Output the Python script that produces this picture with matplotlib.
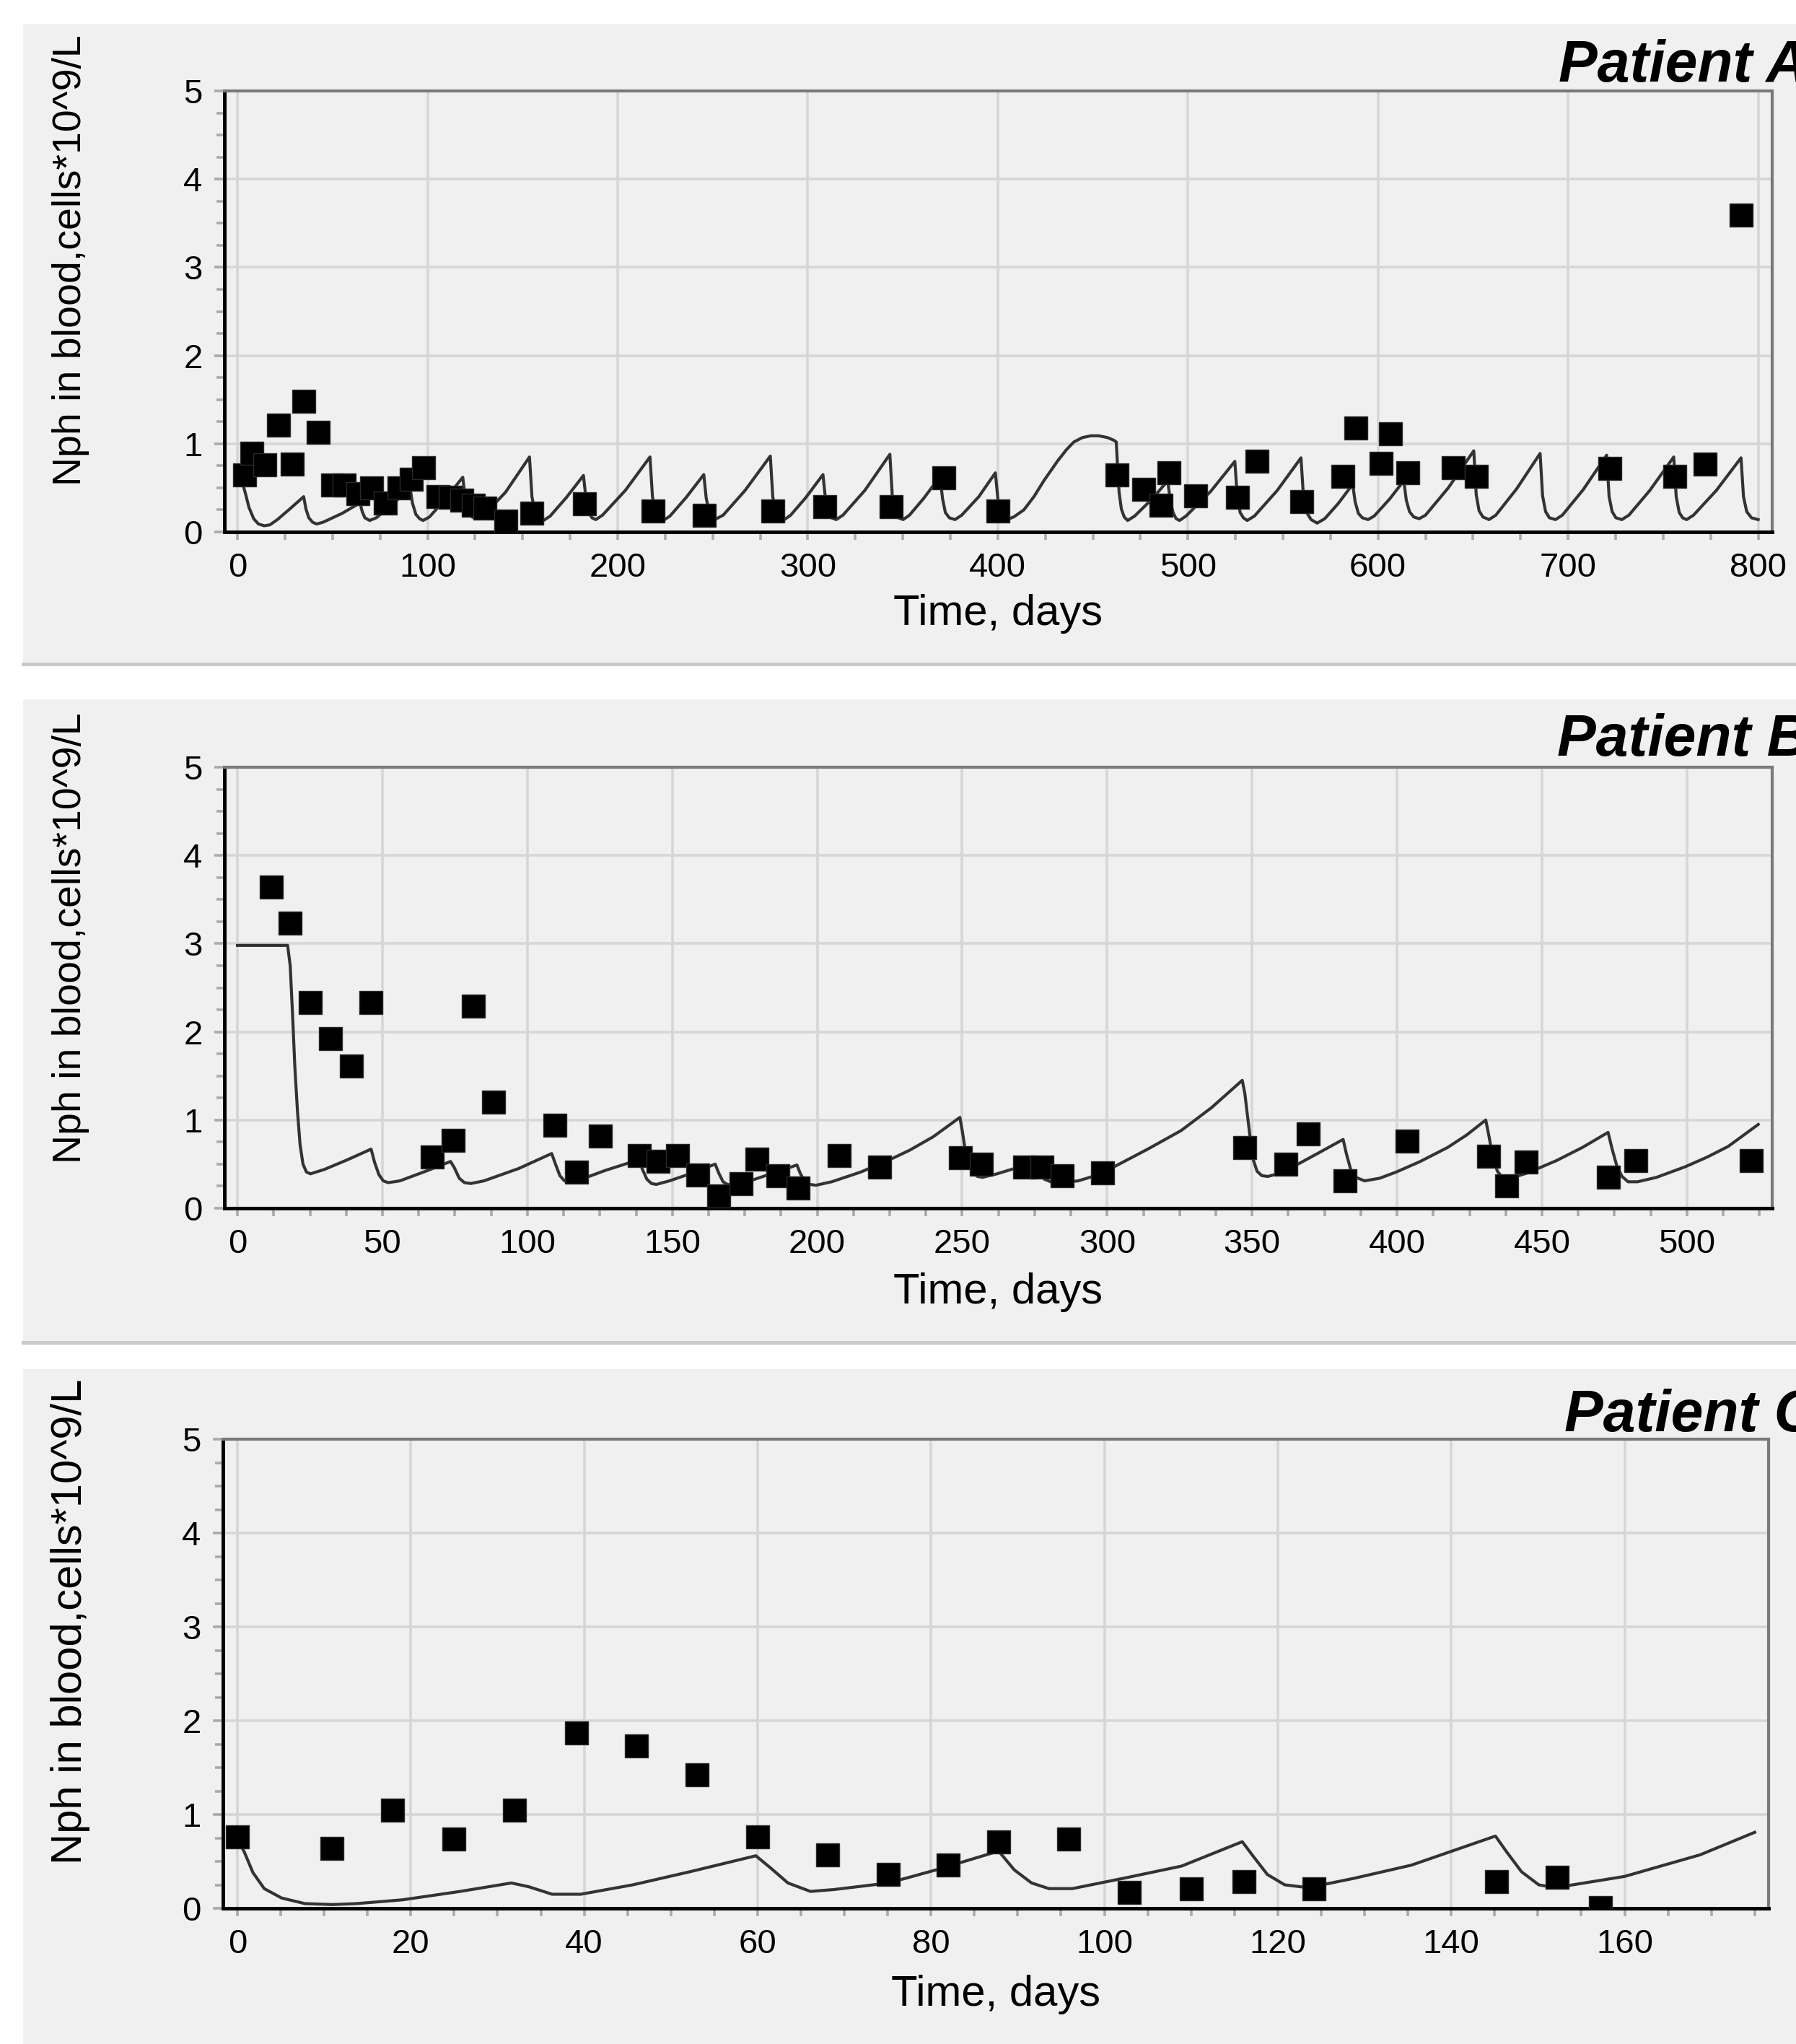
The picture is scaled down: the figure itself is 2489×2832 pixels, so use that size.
import matplotlib
matplotlib.use("Agg")
import matplotlib.pyplot as plt
from matplotlib.ticker import MultipleLocator
from matplotlib.patches import Rectangle
from matplotlib.lines import Line2D

# ---------------- data ----------------
# Patient A measured points
a_days = [3.7, 7.5, 14.4, 21.7, 28.9, 35.0, 42.3, 50.1, 56.0, 63.2, 70.5, 77.8, 84.9,
          91.3, 98.0, 105.5, 112, 118, 124, 130, 141, 155, 182.5, 218.5, 245.7, 281.5,
          308.8, 344, 371.4, 399.9, 462.6, 476.7, 485.9, 490, 504, 526, 536.2, 559.9,
          581.4, 588.5, 601.6, 606.5, 615.8, 639.6, 651.6, 722, 756, 772.2, 791]
a_nph = [0.65, 0.89, 0.76, 1.21, 0.77, 1.48, 1.13, 0.53, 0.53, 0.43, 0.50, 0.33, 0.50,
         0.60, 0.73, 0.40, 0.39, 0.36, 0.30, 0.27, 0.12, 0.21, 0.32, 0.24, 0.19, 0.24,
         0.29, 0.29, 0.61, 0.24, 0.65, 0.48, 0.30, 0.67, 0.41, 0.39, 0.80, 0.34,
         0.63, 1.18, 0.78, 1.11, 0.67, 0.73, 0.63, 0.72, 0.63, 0.77, 3.59]

# Patient A model curve
a_model_t = [0, 2, 4, 6, 8.5, 11, 14, 17, 21, 28, 34.8, 36.0, 37.5, 39.5, 41.6, 45, 55,
             64.5, 65.6, 67, 69.5, 73, 82, 90.8, 92.0, 93.8, 95.8, 97.6, 101, 110,
             118.5, 119.8, 121.5, 123.3, 125.6, 129.5, 141, 153.6, 154.9, 156.4, 158.1,
             161, 164.5, 173, 182, 183.3, 184.8, 186.5, 188.5, 192, 204, 217, 218.3,
             219.8, 221.5, 224, 227.5, 236, 245.3, 246.6, 248.1, 249.8, 252, 255.5, 267,
             280.3, 281.6, 283.1, 284.8, 287.7, 291, 299, 308, 309.3, 310.8, 312.5, 315,
             318.5, 330, 343.2, 344.5, 346, 347.7, 350.2, 353.5, 361, 369.6, 370.9,
             372.4, 374.5, 377.5, 381, 390, 398.7, 400, 401.5, 403, 404.8, 408.4, 413.7,
             419, 424.2, 431.3, 436, 440, 444.5, 449, 453, 457.7, 461, 462.3, 463, 463.8,
             465, 466.5, 468.3, 472, 481, 489.4, 490.7, 492.2, 493.8, 495.6, 499, 512,
             524.7, 526, 527.5, 529.2, 531.2, 535, 547, 559.5, 560.8, 562.5, 564.8, 568,
             572, 579, 586.7, 588, 589.7, 591.8, 594.8, 598, 606, 613.6, 614.9, 616.6,
             618.8, 621.7, 625, 637, 650.4, 651.7, 653.2, 655.2, 658.4, 662, 673, 685.3,
             686.6, 688.2, 690.2, 693.4, 697, 708, 720.3, 721.6, 723.2, 725.2, 728.3,
             732, 743, 755.6, 756.9, 758.5, 760.3, 762.4, 766, 778, 791, 792.3, 794,
             796.5, 800]
a_model_v = [0.66, 0.60, 0.45, 0.28, 0.15, 0.09, 0.07, 0.08, 0.14, 0.27, 0.40, 0.26, 0.16,
             0.11, 0.09, 0.11, 0.21, 0.33, 0.23, 0.16, 0.13, 0.16, 0.32, 0.50, 0.33, 0.20,
             0.15, 0.13, 0.17, 0.39, 0.62, 0.38, 0.23, 0.17, 0.15, 0.19, 0.45, 0.85, 0.40,
             0.23, 0.16, 0.13, 0.18, 0.39, 0.64, 0.38, 0.22, 0.16, 0.14, 0.19, 0.47, 0.85,
             0.40, 0.23, 0.16, 0.13, 0.18, 0.39, 0.65, 0.38, 0.23, 0.17, 0.15, 0.19, 0.47,
             0.86, 0.40, 0.23, 0.16, 0.14, 0.19, 0.39, 0.65, 0.38, 0.22, 0.16, 0.14, 0.19,
             0.47, 0.88, 0.40, 0.23, 0.16, 0.14, 0.19, 0.38, 0.63, 0.38, 0.22, 0.16, 0.14,
             0.19, 0.40, 0.67, 0.38, 0.22, 0.16, 0.14, 0.17, 0.25, 0.40, 0.58, 0.80, 0.93,
             1.02, 1.07, 1.09, 1.09, 1.07, 1.04, 1.02, 0.74, 0.45, 0.26, 0.17, 0.13, 0.18,
             0.37, 0.58, 0.36, 0.22, 0.15, 0.13, 0.18, 0.46, 0.80, 0.39, 0.22, 0.16, 0.13,
             0.18, 0.47, 0.84, 0.40, 0.22, 0.14, 0.10, 0.15, 0.32, 0.54, 0.34, 0.21, 0.16,
             0.14, 0.18, 0.37, 0.58, 0.36, 0.23, 0.17, 0.15, 0.19, 0.50, 0.92, 0.42, 0.24,
             0.17, 0.14, 0.19, 0.49, 0.89, 0.41, 0.23, 0.16, 0.14, 0.19, 0.48, 0.87, 0.40,
             0.23, 0.16, 0.14, 0.19, 0.47, 0.85, 0.40, 0.22, 0.16, 0.14, 0.19, 0.47, 0.84,
             0.40, 0.23, 0.16, 0.14]

# Patient B measured points
b_days = [11.7, 18.1, 25.2, 32.0, 39.2, 46.1, 67.3, 74.4, 81.4, 88.4, 109.5, 117.0, 125.2,
          138.6, 145.1, 151.8, 158.8, 165.9, 173.7, 179.3, 186.3, 193.3, 207.5, 221.4,
          249.5, 256.7, 271.6, 277.5, 284.6, 298.5, 347.5, 361.6, 369.3, 382.1, 403.5,
          431.5, 437.7, 444.6, 473.0, 482.4, 522.3]
b_nph = [3.64, 3.23, 2.33, 1.92, 1.61, 2.33, 0.58, 0.77, 2.29, 1.20, 0.94, 0.41, 0.82,
         0.60, 0.53, 0.60, 0.38, 0.14, 0.28, 0.56, 0.37, 0.23, 0.60, 0.47,
         0.57, 0.50, 0.47, 0.47, 0.37, 0.40, 0.69, 0.50, 0.84, 0.31, 0.76,
         0.59, 0.25, 0.52, 0.35, 0.54, 0.54]

# Patient B model curve
b_model_t = [0, 17.3, 18.2, 19.0, 19.8, 20.7, 21.6, 22.6, 23.8, 25.2, 30, 38, 46.1, 47.3,
             48.8, 50.3, 52, 56, 65, 73.5, 74.8, 76.5, 78.3, 80.5, 85, 97, 108.4, 109.7,
             111.2, 112.8, 114.5, 118, 127, 138.5, 139.7, 141.2, 142.8, 144.5, 149, 157,
             164.8, 166, 167.5, 169, 171, 175, 184, 193, 194.2, 195.8, 197.5, 199.5, 205,
             215, 225, 232, 240, 249.2, 250, 250.9, 252.2, 253.7, 255.3, 257, 262, 268,
             275.5, 276.7, 278.3, 280.5, 284, 290, 295, 303, 314, 325.5, 336, 346.6,
             347.5, 348.4, 349.4, 350.4, 351.7, 353.3, 355.4, 360, 364.7, 372, 381.4,
             382.5, 384, 385.8, 388.8, 394, 399.7, 408, 417.5, 424, 430.6, 431.8, 433,
             434.6, 436.3, 438.2, 445, 455, 464, 472.8, 474.2, 475.8, 477.6, 479.7, 483,
             489.5, 499.4, 507, 514.2, 524.6]
b_model_v = [2.98, 2.98, 2.75, 2.2, 1.6, 1.10, 0.72, 0.50, 0.41, 0.39, 0.44, 0.55, 0.67,
             0.52, 0.38, 0.31, 0.29, 0.31, 0.42, 0.53, 0.46, 0.34, 0.29, 0.28, 0.31, 0.45,
             0.62, 0.50, 0.37, 0.31, 0.30, 0.32, 0.43, 0.55, 0.44, 0.33, 0.28, 0.27, 0.31,
             0.40, 0.50, 0.40, 0.30, 0.27, 0.26, 0.29, 0.39, 0.49, 0.39, 0.30, 0.27, 0.26,
             0.30, 0.41, 0.55, 0.66, 0.81, 1.03, 0.88, 0.69, 0.50, 0.40, 0.36, 0.35, 0.39,
             0.45, 0.54, 0.42, 0.33, 0.30, 0.29, 0.31, 0.36, 0.48, 0.67, 0.88, 1.14, 1.45,
             1.30, 1.05, 0.78, 0.55, 0.42, 0.37, 0.36, 0.40, 0.48, 0.61, 0.78, 0.62, 0.44,
             0.35, 0.31, 0.34, 0.41, 0.53, 0.69, 0.83, 1.00, 0.80, 0.58, 0.42, 0.35, 0.33,
             0.40, 0.54, 0.69, 0.86, 0.67, 0.48, 0.36, 0.30, 0.30, 0.35, 0.47, 0.58, 0.70,
             0.95]

# Patient C measured points
c_days = [0.0, 10.9, 17.9, 25.0, 32.0, 39.1, 46.0, 53.0, 60.0, 68.1, 75.1, 82.0, 87.8,
          95.9, 102.9, 110.0, 116.1, 124.2, 145.2, 152.2, 157.2]
c_nph = [0.76, 0.64, 1.05, 0.74, 1.05, 1.87, 1.73, 1.42, 0.76, 0.57, 0.36, 0.46, 0.71,
         0.74, 0.17, 0.21, 0.285, 0.21, 0.285, 0.33, 0.01]

# Patient C model curve
c_model_t = [0, 0.8, 1.8, 3.1, 5.1, 7.8, 11, 13.7, 19, 25.7, 31.6, 33.6, 36.3, 39.6, 45.6,
             52.2, 59.8, 61.5, 63.5, 66.1, 68.8, 75.1, 81, 87.8, 89.6, 91.6, 93.6, 96.3,
             102.2, 108.9, 115.9, 117.2, 118.8, 120.8, 123.5, 128.8, 135.4, 145.1, 146.4,
             148.1, 150.1, 152, 160, 168.7, 175]
c_model_v = [0.74, 0.60, 0.38, 0.21, 0.11, 0.05, 0.04, 0.05, 0.09, 0.18, 0.27, 0.23, 0.15,
             0.15, 0.25, 0.39, 0.56, 0.43, 0.27, 0.18, 0.20, 0.27, 0.42, 0.61, 0.41, 0.27,
             0.21, 0.21, 0.32, 0.45, 0.71, 0.55, 0.36, 0.25, 0.22, 0.32, 0.46, 0.77, 0.60,
             0.39, 0.25, 0.22, 0.34, 0.57, 0.81]

titles = ["Patient A", "Patient B", "Patient C"]
y_label = "Nph in blood,cells*10^9/L"
x_label = "Time, days"
y_ticks = [0, 1, 2, 3, 4, 5]

# ---------------- figure ----------------
W, H, DPI = 2489, 2832, 100
fig = plt.figure(figsize=(W / DPI, H / DPI), dpi=DPI)
fig.patch.set_facecolor("white")
plt.rcParams["font.family"] = ["Liberation Sans", "DejaVu Sans"]


def fx(px):
    return px / W


def fy(py):
    return 1 - py / H


PANEL_BG = "#f0f0f0"

layout = [
    dict(ptop=33, pbot=920, sep=True, l=311, r=2456, t=126, b=737, xlim=(-6.9, 807.4),
         major=100, minor=25, tx=2160, ty=113, yly=361, xly=866, yls=40),
    dict(ptop=969, pbot=1860, sep=True, l=311, r=2456, t=1063, b=1674, xlim=(-4.5, 529.4),
         major=50, minor=12.5, tx=2158, ty=1047, yly=1300, xly=1806, yls=40),
    dict(ptop=1897, pbot=2832, sep=False, l=309, r=2451, t=1994, b=2644, xlim=(-1.66, 176.6),
         major=20, minor=5, tx=2168, ty=1983, yly=2247, xly=2779, yls=43),
]

series = [
    (a_days, a_nph, a_model_t, a_model_v),
    (b_days, b_nph, b_model_t, b_model_v),
    (c_days, c_nph, c_model_t, c_model_v),
]

for cfg, (pd_, pv_, mt_, mv_), title in zip(layout, series, titles):
    fig.patches.append(Rectangle((fx(32), fy(cfg["pbot"])), 1 - fx(32),
                                 (cfg["pbot"] - cfg["ptop"]) / H,
                                 transform=fig.transFigure, facecolor=PANEL_BG,
                                 edgecolor="none", zorder=-10))
    if cfg["sep"]:
        fig.lines.append(Line2D([fx(32), 1], [fy(cfg["pbot"]), fy(cfg["pbot"])],
                                transform=fig.transFigure, color="#cacaca", lw=3.6,
                                zorder=-9))

    ax = fig.add_axes([fx(cfg["l"]), fy(cfg["b"]), (cfg["r"] - cfg["l"]) / W,
                       (cfg["b"] - cfg["t"]) / H])
    ax.set_zorder(1)
    ax.set_facecolor(PANEL_BG)
    ax.set_xlim(*cfg["xlim"])
    ax.set_ylim(0, 5)
    ax.set_yticks(y_ticks)
    ax.xaxis.set_major_locator(MultipleLocator(cfg["major"]))
    ax.xaxis.set_minor_locator(MultipleLocator(cfg["minor"]))
    ax.yaxis.set_minor_locator(MultipleLocator(0.25))
    ax.grid(True, which="major", color="#d6d6d6", lw=2.6)
    ax.set_axisbelow(True)

    for side in ("left", "bottom"):
        ax.spines[side].set_color("black")
        ax.spines[side].set_linewidth(3.6)
    for side in ("top", "right"):
        ax.spines[side].set_color("#7a7a7a")
        ax.spines[side].set_linewidth(3.0)

    ax.tick_params(which="both", direction="out", color="#aaaaaa", width=2.6,
                   labelsize=34, labelcolor="black")
    ax.tick_params(axis="y", which="major", length=10, pad=12)
    ax.tick_params(axis="y", which="minor", length=8)
    ax.tick_params(axis="x", which="major", length=8, pad=12)
    ax.tick_params(axis="x", which="minor", length=8)

    ax.plot(mt_, mv_, color="#333333", lw=3.0, zorder=3, solid_joinstyle="round")
    ax.plot(pd_, pv_, ls="none", marker="s", ms=23, mfc="black", mec="#2a2a2a",
            mew=1.0, zorder=4)

    fig.text(fx(cfg["tx"]), fy(cfg["ty"]), title, fontsize=58, fontweight="bold",
             fontstyle="italic", ha="left", va="baseline")
    fig.text(fx(98), fy(cfg["yly"]), y_label, rotation=90, ha="center", va="center",
             fontsize=cfg["yls"])
    fig.text(fx((cfg["l"] + cfg["r"]) / 2), fy(cfg["xly"]), x_label, ha="center",
             va="baseline", fontsize=43)

fig.savefig("out.png", dpi=DPI, facecolor="white")
